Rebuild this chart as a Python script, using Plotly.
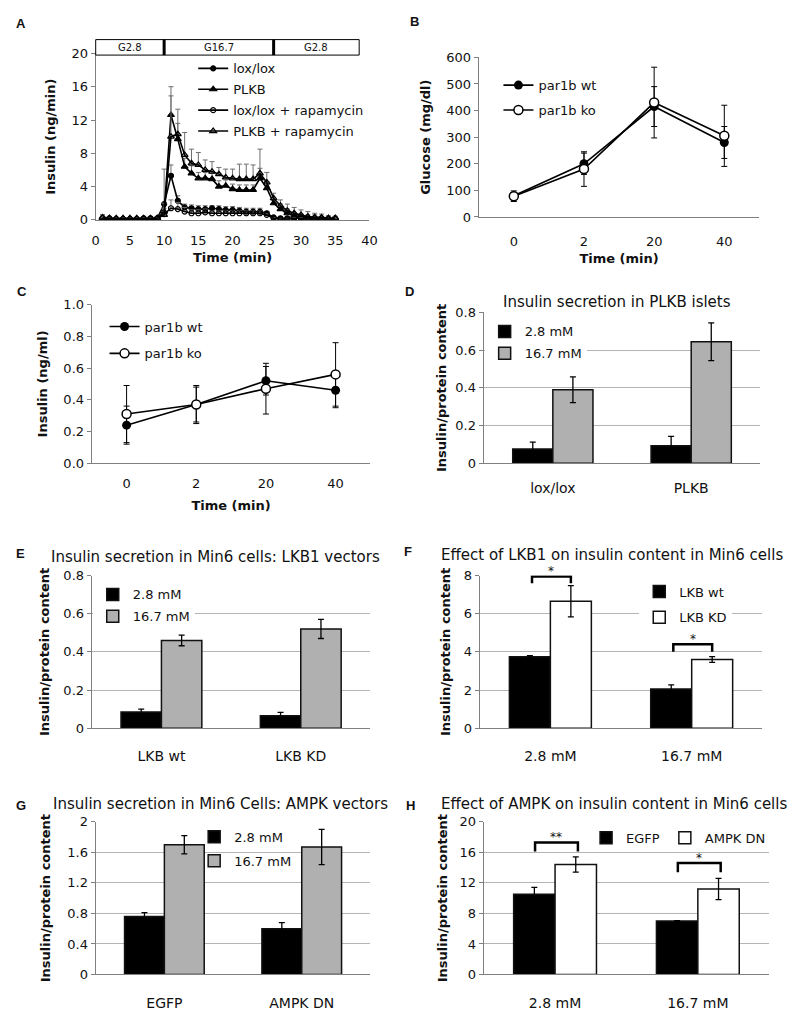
import plotly.graph_objects as go

# page body has an 8px default margin: figure is sized so the page fits the window exactly
OFF = 8
FW, FH = 784, 1006
FONT = "DejaVu Sans"

# ---------------- Data ----------------
# Panel A: perifusion, time 1..35 min
a_time = list(range(1, 36))
a_lox = [0.2, 0.1, 0.1, 0.1, 0.1, 0.1, 0.2, 0.2, 0.2,
         1.9, 5.3, 2.3, 1.5, 1.4, 1.3, 1.3, 1.4, 1.3, 1.2, 1.2, 1.1, 1.0, 1.0, 1.0,
         0.8, 0.3, 0.2, 0.2, 0.2, 0.2, 0.1, 0.2, 0.2, 0.1, 0.2]
a_lox_err = [0.4, 0.1, 0.1, 0.1, 0.1, 0.1, 0.1, 0.2, 0.2,
             4.2, 1.3, 0.6, 0.4, 0.4, 0.4, 0.4, 0.3, 0.4, 0.4, 0.4, 0.4, 0.4, 0.4, 0.4,
             0.2, 0.1, 0.1, 0.1, 0.1, 0.1, 0.1, 0.1, 0.1, 0.1, 0.1]
a_plkb = [0.2, 0.2, 0.1, 0.1, 0.1, 0.1, 0.1, 0.1, 0.2,
          1.0, 12.6, 9.7, 6.4, 5.6, 5.0, 5.0, 4.9, 4.0, 4.1, 3.7, 3.6, 3.6, 3.6, 5.0,
          3.8, 2.0, 1.3, 0.8, 0.5, 0.4, 0.3, 0.3, 0.2, 0.2, 0.2]
a_plkb_err = [0.2, 0.1, 0.1, 0.1, 0.1, 0.1, 0.1, 0.1, 0.2,
              1.0, 2.3, 1.9, 1.0, 0.9, 0.7, 0.7, 0.7, 0.7, 0.7, 0.6, 0.6, 0.6, 0.6, 1.2,
              0.8, 0.7, 0.6, 0.5, 0.4, 0.3, 0.3, 0.3, 0.2, 0.2, 0.2]
a_lox_rap = [0.2, 0.2, 0.1, 0.1, 0.1, 0.1, 0.1, 0.1, 0.1,
             0.7, 1.4, 1.3, 1.0, 0.8, 0.8, 0.9, 0.8, 0.8, 0.8, 0.8, 0.8, 0.8, 0.8, 0.8,
             0.6, 0.2, 0.1, 0.1, 0.2, 0.2, 0.1, 0.1, 0.1, 0.1, 0.1]
a_lox_rap_err = [0.2, 0.1, 0.1, 0.1, 0.1, 0.1, 0.1, 0.1, 0.1,
                 0.3, 1.0, 0.8, 0.5, 0.4, 0.4, 0.4, 0.3, 0.3, 0.3, 0.3, 0.3, 0.3, 0.3, 0.3,
                 0.2, 0.1, 0.1, 0.1, 0.1, 0.1, 0.1, 0.1, 0.1, 0.1, 0.1]
a_plkb_rap = [0.3, 0.2, 0.2, 0.2, 0.2, 0.2, 0.2, 0.2, 0.2,
              0.6, 10.0, 10.3, 7.8, 6.8, 6.6, 6.0, 5.8, 5.5, 5.1, 5.0, 4.9, 4.9, 4.9, 5.6,
              4.5, 2.6, 1.7, 1.1, 0.8, 0.6, 0.4, 0.3, 0.3, 0.2, 0.2]
a_plkb_rap_err = [0.3, 0.1, 0.1, 0.1, 0.1, 0.1, 0.1, 0.1, 0.1,
                  0.8, 6.0, 3.0, 2.7, 1.7, 1.5, 1.2, 1.2, 0.8, 1.0, 1.1, 1.8, 1.8, 1.7, 2.9,
                  1.2, 0.6, 0.7, 0.8, 0.7, 0.6, 0.6, 0.5, 0.4, 0.3, 0.2]
a_phase_edges = [0, 10, 26, 38.5]
a_phase_labels = ["G2.8", "G16.7", "G2.8"]

# Panels B, C: glucose / insulin time course
bc_times = ["0", "2", "20", "40"]
b_wt = [80, 200, 415, 280]
b_wt_err = [12, 40, 75, 60]
b_ko = [78, 180, 430, 305]
b_ko_err = [20, 65, 133, 115]
c_wt = [0.24, 0.37, 0.52, 0.46]
c_wt_err = [0.12, 0.11, 0.09, 0.11]
c_ko = [0.31, 0.37, 0.47, 0.56]
c_ko_err = [0.18, 0.12, 0.16, 0.20]

# Panel D
d_groups = ["lox/lox", "PLKB"]
d_low = [0.075, 0.093]
d_low_err = [0.037, 0.05]
d_high = [0.39, 0.645]
d_high_err = [0.068, 0.10]
# Panel E
e_groups = ["LKB wt", "LKB KD"]
e_low = [0.085, 0.065]
e_low_err = [0.015, 0.018]
e_high = [0.46, 0.52]
e_high_err = [0.028, 0.05]
# Panel F
f_groups = ["2.8 mM", "16.7 mM"]
f_wt = [3.75, 2.05]
f_wt_err = [0.05, 0.22]
f_kd = [6.65, 3.6]
f_kd_err = [0.82, 0.15]
f_sig = ["*", "*"]
f_sig_top = [7.95, 4.4]
f_sig_leg = [7.6, 4.0]
# Panel G
g_groups = ["EGFP", "AMPK DN"]
g_low = [0.76, 0.60]
g_low_err = [0.05, 0.08]
g_high = [1.70, 1.67]
g_high_err = [0.12, 0.23]
# Panel H
h_groups = ["2.8 mM", "16.7 mM"]
h_egfp = [10.5, 7.0]
h_egfp_err = [0.9, 0.05]
h_dn = [14.4, 11.2]
h_dn_err = [1.0, 1.4]
h_sig = ["**", "*"]
h_sig_top = [17.3, 14.6]
h_sig_leg = [16.1, 13.4]

# ---------------- Helpers ----------------
AX = "#808080"
GRID = "#b4b4b4"
TXT = "#111111"


def px_x(px):
    return (px - OFF) / FW


def px_y(py):
    return 1 - (py - OFF) / FH


def xdom(p0, p1):
    return [px_x(p0), px_x(p1)]


def ydom(top, bot):
    return [px_y(bot), px_y(top)]


# plot areas in window pixels: left, right, top, bottom
PANELS = {
    1: (93, 371, 47, 216),
    2: (482, 767, 51, 213),
    3: (89, 372, 302, 463),
    4: (487, 768, 310, 463),
    5: (89, 372, 577, 732),
    6: (483, 770, 577, 732),
    7: (93, 372, 827, 982),
    8: (487, 777, 827, 982),
}

fig = go.Figure()
layout = {}


def sfx(n):
    return "" if n == 1 else str(n)


def set_axes(n, xkw, ykw):
    x0, x1, t, b = PANELS[n]
    base_x = dict(domain=xdom(x0, x1), anchor="y" + sfx(n), showline=True, linecolor=AX,
                  linewidth=1.2, showgrid=False, zeroline=False, ticks="",
                  tickfont=dict(family=FONT, size=13, color=TXT))
    base_y = dict(domain=ydom(t, b), anchor="x" + sfx(n), showline=True, linecolor=AX,
                  linewidth=1.2, ticks="outside", ticklen=4, tickcolor=AX,
                  showgrid=False, zeroline=False,
                  tickfont=dict(family=FONT, size=13, color=TXT))
    base_x.update(xkw)
    base_y.update(ykw)
    layout["xaxis" + sfx(n)] = base_x
    layout["yaxis" + sfx(n)] = base_y


def ytitle(text, standoff=10):
    return dict(text="<b>" + text + "</b>", font=dict(family=FONT, size=13, color=TXT),
                standoff=standoff)


def xtitle(text, standoff=6):
    return dict(text="<b>" + text + "</b>", font=dict(family=FONT, size=13, color=TXT),
                standoff=standoff)


# ---------------- Panel A ----------------
zeros = [0] * len(a_time)
a_series = [
    ("lox/lox", a_lox, a_lox_err, "circle", 5),
    ("PLKB", a_plkb, a_plkb_err, "triangle-up", 6),
    ("lox/lox + rapamycin", a_lox_rap, a_lox_rap_err, "circle-open", 5),
    ("PLKB + rapamycin", a_plkb_rap, a_plkb_rap_err, "triangle-up-open", 6),
]
for name, ys, err, sym, size in a_series:
    fig.add_trace(go.Scatter(
        x=a_time, y=ys, name=name, mode="lines+markers",
        line=dict(color="black", width=1.6),
        marker=dict(symbol=sym, size=size, color="black",
                    line=dict(color="black", width=1.2)),
        error_y=dict(type="data", array=err, arrayminus=zeros, symmetric=False,
                     color="#6e6e6e", thickness=1, width=2.5),
        xaxis="x", yaxis="y", legend="legend", legendgroup=name,
    ))
set_axes(1,
         dict(range=[0, 40], dtick=5, tick0=0, ticklabelstandoff=8, title=xtitle("Time (min)", 6)),
         dict(range=[0, 20], dtick=4, title=ytitle("Insulin (ng/min)", 12)))

# phase boxes above panel A
a_top = 1.083
a_bot = 0.99
for i, lab in enumerate(a_phase_labels):
    x0 = a_phase_edges[i] / 40
    x1 = a_phase_edges[i + 1] / 40
    fig.add_shape(type="rect", xref="x domain", yref="y domain", x0=x0, x1=x1, y0=a_bot, y1=a_top,
                  line=dict(color="black", width=1), fillcolor="white")
    fig.add_annotation(xref="x domain", yref="y domain", x=(x0 + x1) / 2, y=(a_top + a_bot) / 2,
                       text=lab, showarrow=False, xanchor="center", yanchor="middle",
                       font=dict(family=FONT, size=10, color=TXT))
for e in a_phase_edges[1:-1]:
    fig.add_shape(type="line", xref="x domain", yref="y domain", x0=e / 40, x1=e / 40,
                  y0=a_bot, y1=a_top, line=dict(color="black", width=3))

# ---------------- Panels B, C ----------------
for n, (wt, wte, ko, koe) in {2: (b_wt, b_wt_err, b_ko, b_ko_err),
                              3: (c_wt, c_wt_err, c_ko, c_ko_err)}.items():
    lg = "legend" + str(n)
    fig.add_trace(go.Scatter(
        x=bc_times, y=wt, name="par1b wt", mode="lines+markers",
        line=dict(color="black", width=1.6),
        marker=dict(symbol="circle", size=9, color="black"),
        error_y=dict(type="data", array=wte, color="black", thickness=1, width=3),
        xaxis="x" + str(n), yaxis="y" + str(n), legend=lg, legendgroup=lg + "wt"))
    fig.add_trace(go.Scatter(
        x=bc_times, y=ko, name="par1b ko", mode="lines+markers",
        line=dict(color="black", width=1.6),
        marker=dict(symbol="circle", size=9, color="white", line=dict(color="black", width=1.5)),
        error_y=dict(type="data", array=koe, color="black", thickness=1, width=3),
        xaxis="x" + str(n), yaxis="y" + str(n), legend=lg, legendgroup=lg + "ko"))

set_axes(2,
         dict(type="category", range=[-0.5, 3.5], ticklabelstandoff=12, title=xtitle("Time (min)", 6)),
         dict(range=[0, 600], dtick=100, title=ytitle("Glucose (mg/dl)", 12)))
set_axes(3,
         dict(type="category", range=[-0.5, 3.5], ticklabelstandoff=8, title=xtitle("Time (min)", 10)),
         dict(range=[0, 1.0], dtick=0.2, tickformat=".1f", title=ytitle("Insulin (ng/ml)", 12)))

# ---------------- Bar panels D-H ----------------
GRAY = "#b0b0b0"
bar_panels = [
    (4, d_groups, ("2.8 mM", d_low, d_low_err, "black"), ("16.7 mM", d_high, d_high_err, GRAY),
     [0, 0.8], 0.2, "Insulin secretion in PLKB islets"),
    (5, e_groups, ("2.8 mM", e_low, e_low_err, "black"), ("16.7 mM", e_high, e_high_err, GRAY),
     [0, 0.8], 0.2, "Insulin secretion in Min6 cells: LKB1 vectors"),
    (6, f_groups, ("LKB wt", f_wt, f_wt_err, "black"), ("LKB KD", f_kd, f_kd_err, "white"),
     [0, 8], 2, "Effect of LKB1 on insulin content in Min6 cells"),
    (7, g_groups, ("2.8 mM", g_low, g_low_err, "black"), ("16.7 mM", g_high, g_high_err, GRAY),
     [0, 2], 0.4, "Insulin secretion in Min6 Cells: AMPK vectors"),
    (8, h_groups, ("EGFP", h_egfp, h_egfp_err, "black"), ("AMPK DN", h_dn, h_dn_err, "white"),
     [0, 20], 4, "Effect of AMPK on insulin content in Min6 cells"),
]
title_pos = {4: (622, 299), 5: (215, 558), 6: (617, 556), 7: (220, 809), 8: (619, 809)}
ytitle_standoff = {4: 5, 5: 10, 6: 10, 7: 13, 8: 8}
xlabel_standoff = {4: 12, 5: 15, 6: 15, 7: 16, 8: 16}

for n, groups, s1, s2, yr, dt, title in bar_panels:
    xs = list(range(len(groups)))
    lg = "legend" + str(n)
    for name, vals, errs, col in (s1, s2):
        fig.add_trace(go.Bar(
            x=xs, y=vals, name=name,
            marker=dict(color=col, line=dict(color="#111111", width=1.5)),
            error_y=dict(type="data", array=errs, color="black", thickness=1.3, width=3),
            xaxis="x" + str(n), yaxis="y" + str(n), legend=lg, legendgroup=lg + name))
    set_axes(n,
             dict(range=[-0.5, len(groups) - 0.5], tickvals=xs, ticktext=groups,
                  ticklabelstandoff=xlabel_standoff[n], tickfont=dict(family=FONT, size=14, color=TXT)),
             dict(range=yr, dtick=dt, showgrid=True, gridcolor=GRID, gridwidth=1.2,
                  title=ytitle("Insulin/protein content", ytitle_standoff[n])))
    tx, ty = title_pos[n]
    fig.add_annotation(xref="paper", yref="paper", x=px_x(tx), y=px_y(ty), text=title,
                       showarrow=False, xanchor="center", yanchor="middle",
                       font=dict(family=FONT, size=15, color=TXT))

# significance brackets
for n, tops, legs, sigs, lo, hi in ((6, f_sig_top, f_sig_leg, f_sig, -0.13, 0.145),
                                    (8, h_sig_top, h_sig_leg, h_sig, -0.14, 0.16)):
    for i in range(len(tops)):
        xa, xb = i + lo, i + hi
        fig.add_shape(type="path", xref="x" + str(n), yref="y" + str(n),
                      path=f"M {xa},{legs[i]} L {xa},{tops[i]} L {xb},{tops[i]} L {xb},{legs[i]}",
                      line=dict(color="black", width=2.5))
        fig.add_annotation(xref="x" + str(n), yref="y" + str(n), x=(xa + xb) / 2, y=tops[i],
                           text=sigs[i], showarrow=False, yanchor="bottom", yshift=-4,
                           font=dict(family=FONT, size=12, color=TXT))

# panel letters
letters = {"A": (17, 17), "B": (417, 15), "C": (18, 289), "D": (412, 289),
           "E": (17, 555), "F": (410, 553), "G": (17, 810), "H": (413, 810)}
for k, (lx, ly) in letters.items():
    fig.add_annotation(xref="paper", yref="paper", x=px_x(lx), y=px_y(ly), text="<b>" + k + "</b>",
                       showarrow=False, xanchor="center", yanchor="middle",
                       font=dict(family="Liberation Sans", size=13, color=TXT))


# ---------------- Legends ----------------
def legend(xp, yp, gap, bg="rgba(0,0,0,0)", orient="v"):
    return dict(x=px_x(xp), y=px_y(yp), xanchor="left", yanchor="top", bgcolor=bg,
                font=dict(family=FONT, size=13, color=TXT), tracegroupgap=gap,
                itemwidth=30, orientation=orient, borderwidth=0)


layout["legend"] = legend(192, 47, 1)
layout["legend2"] = legend(502, 64, 5)
layout["legend3"] = legend(102, 309, 7)
layout["legend4"] = legend(488, 314, 2, "white")
layout["legend5"] = legend(90, 581, 2, "white")
layout["legend6"] = legend(645, 578, 6, "white")
layout["legend7"] = legend(193, 827, 4)
layout["legend8"] = legend(591, 828, 0, "rgba(0,0,0,0)", "h")

fig.update_layout(
    width=FW, height=FH, margin=dict(l=0, r=0, t=0, b=0),
    paper_bgcolor="white", plot_bgcolor="white",
    barmode="group", bargap=0.42, bargroupgap=0,
    font=dict(family=FONT, color=TXT),
    **layout,
)

fig.write_html("out.html")
